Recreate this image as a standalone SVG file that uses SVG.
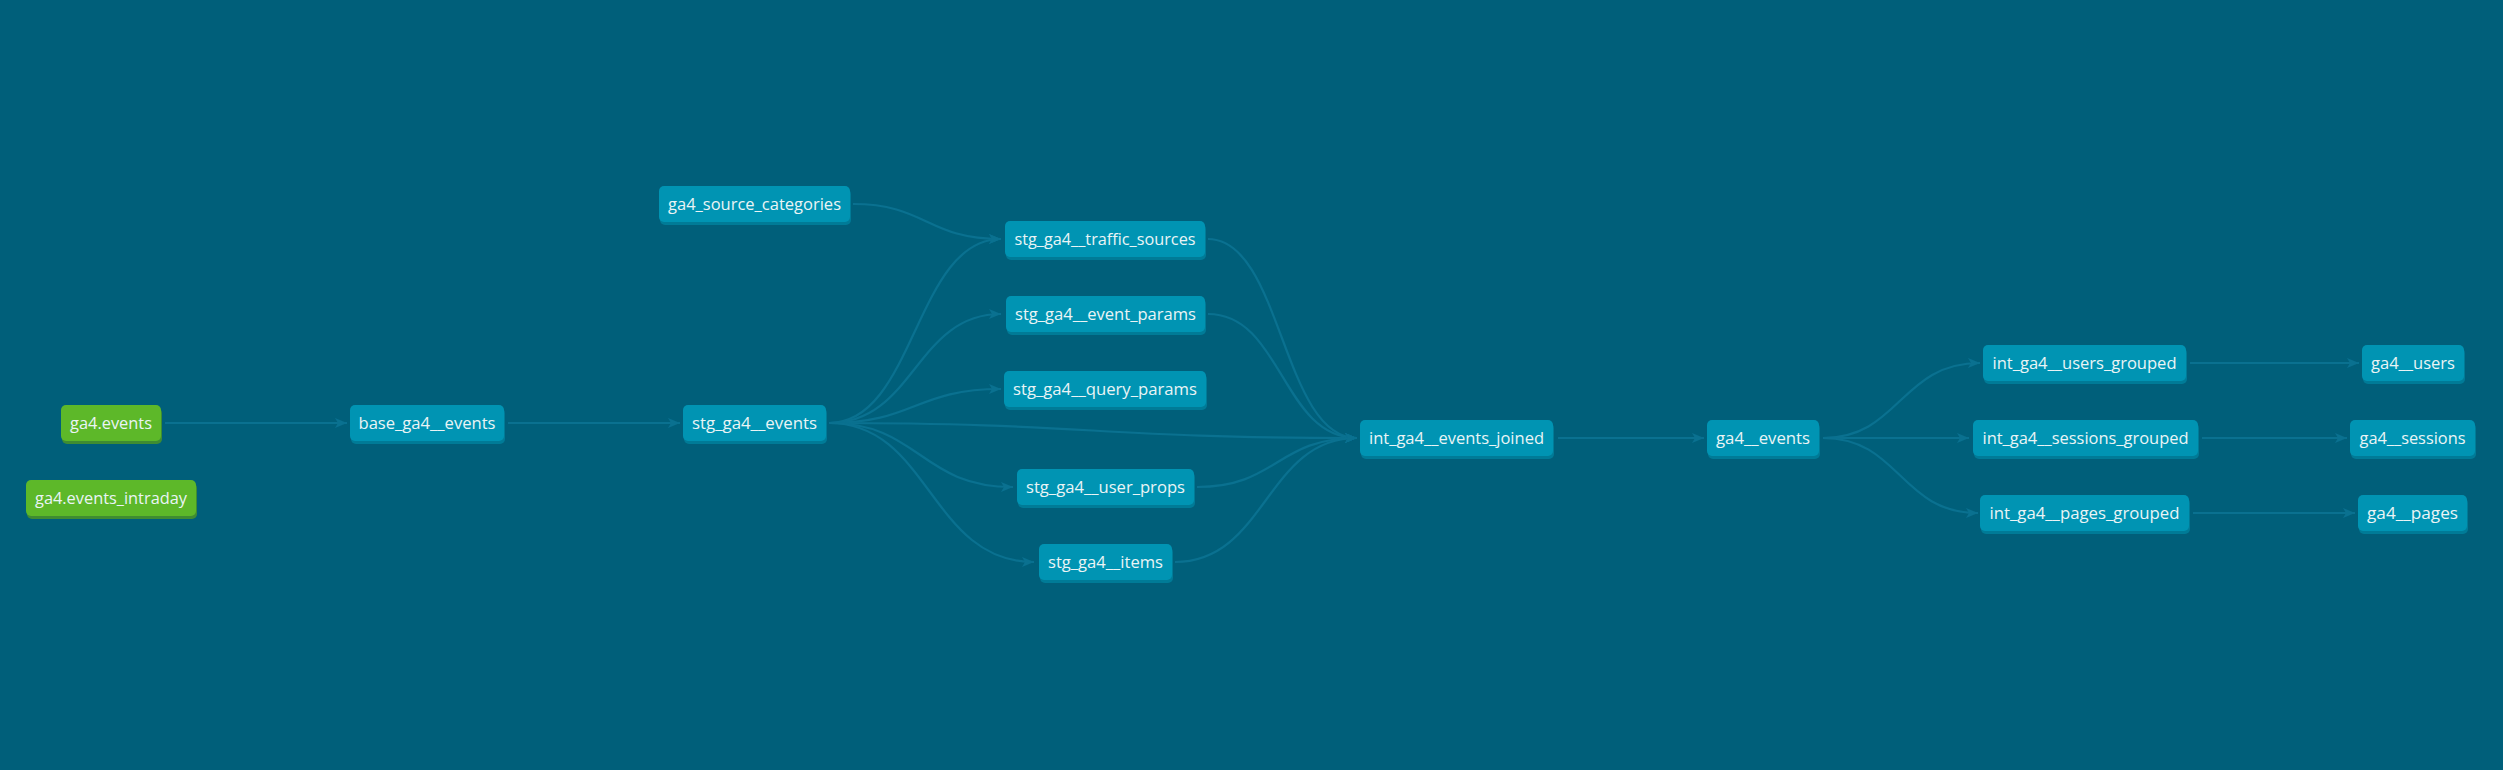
<svg xmlns="http://www.w3.org/2000/svg" width="2503" height="770" viewBox="0 0 2503 770">
<defs>
<style>
.bg{fill:#005f7a}
.n rect.f{fill:#0094b3}
.n rect.s{fill:#007b97}
.g rect.f{fill:#5db829}
.g rect.s{fill:#3f8c32}
text{font-family:"Open Sans","Noto Sans","DejaVu Sans",sans-serif;font-size:16px;fill:#eaf4f6;text-anchor:middle}
.e path{fill:none;stroke:#0a7190;stroke-width:2.2;marker-end:url(#arr)}
</style>
<marker id="arr" markerUnits="userSpaceOnUse" markerWidth="12" markerHeight="10" viewBox="0 0 12 10" refX="12" refY="5" orient="auto">
<path d="M0,0 L12,5 L0,10 L3,5 z" fill="#0a7190"/>
</marker>
</defs>
<rect class="bg" x="0" y="0" width="2503" height="770"/>
<g id="connectors" class="e">
<path d="M165,423 L347,423"/>
<path d="M508,423 L680,423"/>
<path d="M853,204 C926,204 927,239 1001,239"/>
<path d="M829,423 C915,423 915,239 1001,239"/>
<path d="M829,423 C915,423 915,314 1001,314"/>
<path d="M829,423 C915,423 915,389 1001,389"/>
<path d="M829,423 C1090,423 1095,438 1357,438"/>
<path d="M829,423 C920,423 920,487 1013,487"/>
<path d="M829,423 C930,423 930,562 1034,562"/>
<path d="M1208,239 C1282,239 1282,438 1357,438"/>
<path d="M1208,314 C1282,314 1282,438 1357,438"/>
<path d="M1197,487 C1277,487 1277,438 1357,438"/>
<path d="M1175,562 C1266,562 1266,438 1357,438"/>
<path d="M1558,438 L1704,438"/>
<path d="M1823,438 C1900,438 1900,363 1980,363"/>
<path d="M1823,438 L1969,438"/>
<path d="M1823,438 C1900,438 1900,513 1978,513"/>
<path d="M2190,363 L2359,363"/>
<path d="M2202,438 L2347,438"/>
<path d="M2193,513 L2355,513"/>
</g>
<g id="ga4_events" class="g"><rect class="s" x="62" y="408" width="100" height="36" rx="5"/><rect class="f" x="61" y="405" width="100" height="36" rx="5"/><text x="111" y="429" textLength="82" lengthAdjust="spacingAndGlyphs">ga4.events</text></g>
<g id="ga4_events_intraday" class="g"><rect class="s" x="27" y="483" width="170" height="36" rx="5"/><rect class="f" x="26" y="480" width="170" height="36" rx="5"/><text x="111" y="504" textLength="152" lengthAdjust="spacingAndGlyphs">ga4.events_intraday</text></g>
<g id="base_ga4__events" class="n"><rect class="s" x="351" y="408" width="154" height="36" rx="5"/><rect class="f" x="350" y="405" width="154" height="36" rx="5"/><text x="427" y="429" textLength="137" lengthAdjust="spacingAndGlyphs">base_ga4__events</text></g>
<g id="stg_ga4__events" class="n"><rect class="s" x="684" y="408" width="143" height="36" rx="5"/><rect class="f" x="683" y="405" width="143" height="36" rx="5"/><text x="754.5" y="429" textLength="125" lengthAdjust="spacingAndGlyphs">stg_ga4__events</text></g>
<g id="ga4_source_categories" class="n"><rect class="s" x="660" y="189" width="191" height="36" rx="5"/><rect class="f" x="659" y="186" width="191" height="36" rx="5"/><text x="754.5" y="210" textLength="173" lengthAdjust="spacingAndGlyphs">ga4_source_categories</text></g>
<g id="stg_ga4__traffic_sources" class="n"><rect class="s" x="1006" y="224" width="200" height="36" rx="5"/><rect class="f" x="1005" y="221" width="200" height="36" rx="5"/><text x="1105" y="245" textLength="181" lengthAdjust="spacingAndGlyphs">stg_ga4__traffic_sources</text></g>
<g id="stg_ga4__event_params" class="n"><rect class="s" x="1007" y="299" width="199" height="36" rx="5"/><rect class="f" x="1006" y="296" width="199" height="36" rx="5"/><text x="1105.5" y="320" textLength="181" lengthAdjust="spacingAndGlyphs">stg_ga4__event_params</text></g>
<g id="stg_ga4__query_params" class="n"><rect class="s" x="1005" y="374" width="202" height="36" rx="5"/><rect class="f" x="1004" y="371" width="202" height="36" rx="5"/><text x="1105" y="395" textLength="184" lengthAdjust="spacingAndGlyphs">stg_ga4__query_params</text></g>
<g id="stg_ga4__user_props" class="n"><rect class="s" x="1018" y="472" width="177" height="36" rx="5"/><rect class="f" x="1017" y="469" width="177" height="36" rx="5"/><text x="1105.5" y="493" textLength="159" lengthAdjust="spacingAndGlyphs">stg_ga4__user_props</text></g>
<g id="stg_ga4__items" class="n"><rect class="s" x="1040" y="547" width="133" height="36" rx="5"/><rect class="f" x="1039" y="544" width="133" height="36" rx="5"/><text x="1105.5" y="568" textLength="115" lengthAdjust="spacingAndGlyphs">stg_ga4__items</text></g>
<g id="int_ga4__events_joined" class="n"><rect class="s" x="1361" y="423" width="193" height="36" rx="5"/><rect class="f" x="1360" y="420" width="193" height="36" rx="5"/><text x="1456.5" y="444" textLength="175" lengthAdjust="spacingAndGlyphs">int_ga4__events_joined</text></g>
<g id="ga4__events" class="n"><rect class="s" x="1708" y="423" width="112" height="36" rx="5"/><rect class="f" x="1707" y="420" width="112" height="36" rx="5"/><text x="1763" y="444" textLength="94" lengthAdjust="spacingAndGlyphs">ga4__events</text></g>
<g id="int_ga4__users_grouped" class="n"><rect class="s" x="1984" y="348" width="203" height="36" rx="5"/><rect class="f" x="1983" y="345" width="203" height="36" rx="5"/><text x="2084.5" y="369" textLength="184" lengthAdjust="spacingAndGlyphs">int_ga4__users_grouped</text></g>
<g id="ga4__users" class="n"><rect class="s" x="2363" y="348" width="102" height="36" rx="5"/><rect class="f" x="2362" y="345" width="102" height="36" rx="5"/><text x="2413" y="369" textLength="84" lengthAdjust="spacingAndGlyphs">ga4__users</text></g>
<g id="int_ga4__sessions_grouped" class="n"><rect class="s" x="1974" y="423" width="225" height="36" rx="5"/><rect class="f" x="1973" y="420" width="225" height="36" rx="5"/><text x="2085.5" y="444" textLength="206" lengthAdjust="spacingAndGlyphs">int_ga4__sessions_grouped</text></g>
<g id="ga4__sessions" class="n"><rect class="s" x="2351" y="423" width="125" height="36" rx="5"/><rect class="f" x="2350" y="420" width="125" height="36" rx="5"/><text x="2412.5" y="444" textLength="106" lengthAdjust="spacingAndGlyphs">ga4__sessions</text></g>
<g id="int_ga4__pages_grouped" class="n"><rect class="s" x="1981" y="498" width="209" height="36" rx="5"/><rect class="f" x="1980" y="495" width="209" height="36" rx="5"/><text x="2084.5" y="519" textLength="190" lengthAdjust="spacingAndGlyphs">int_ga4__pages_grouped</text></g>
<g id="ga4__pages" class="n"><rect class="s" x="2359" y="498" width="109" height="36" rx="5"/><rect class="f" x="2358" y="495" width="109" height="36" rx="5"/><text x="2412.5" y="519" textLength="91" lengthAdjust="spacingAndGlyphs">ga4__pages</text></g>
</svg>
